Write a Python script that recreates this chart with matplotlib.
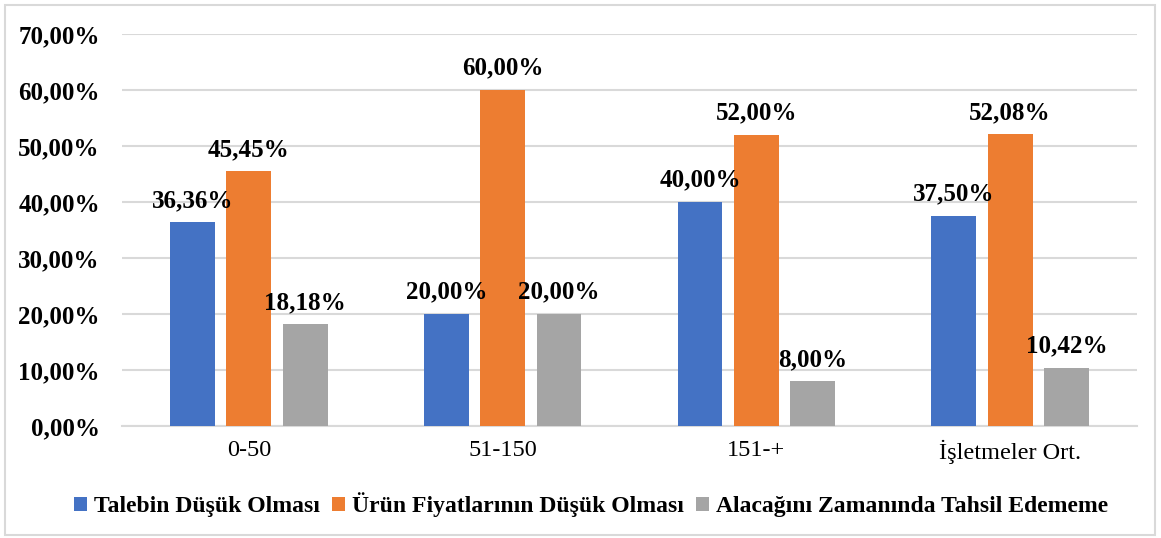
import matplotlib
matplotlib.use("Agg")
import matplotlib.pyplot as plt
import numpy as np
from matplotlib.patches import Rectangle

categories = ["0-50", "51-150", "151-+", "İşletmeler Ort."]
series_names = ["Talebin Düşük Olması", "Ürün Fiyatlarının Düşük Olması", "Alacağını Zamanında Tahsil Edememe"]
talep = [36.36, 20.00, 40.00, 37.50]
fiyat = [45.45, 60.00, 52.00, 52.08]
alacak = [18.18, 20.00, 8.00, 10.42]
yticks = [0, 10, 20, 30, 40, 50, 60, 70]
colors = ["#4472C4", "#ED7D31", "#A5A5A5"]

plt.rcParams['font.family'] = ['Liberation Serif', 'DejaVu Serif']

fig = plt.figure(figsize=(11.61, 5.38), dpi=100)
ax = fig.add_axes([122/1161, 112/538, (1137-122)/1161, (504-112)/538])

x = np.arange(len(categories))
w = 0.177
step = 0.222
for i, (vals, c, name) in enumerate(zip([talep, fiyat, alacak], colors, series_names)):
    ax.bar(x + (i - 1) * step, vals, width=w, color=c, label=name, zorder=3)
    for xi, v in zip(x + (i - 1) * step, vals):
        ax.annotate(f"{v:.2f}%".replace(".", ","), (xi, v), xytext=(0, 11),
                    textcoords="offset points", ha="center", va="baseline",
                    fontsize=18, fontweight="bold", zorder=4)

ax.set_xlim(-0.5, len(categories) - 0.5)
ax.set_ylim(0, 70)
ax.set_yticks(yticks)
ax.set_yticklabels([f"{t:.2f}%".replace(".", ",") for t in yticks], fontsize=18, fontweight="bold")
ax.set_xticks(x)
ax.set_xticklabels(categories, fontsize=17.5)
ax.tick_params(axis="both", length=0)
ax.tick_params(axis="y", pad=16)
ax.tick_params(axis="x", pad=10)
ax.grid(axis="y", color="#D9D9D9", linewidth=1.5, zorder=0)
for s in ["top", "right", "left"]:
    ax.spines[s].set_visible(False)
ax.spines["bottom"].set_color("#D9D9D9")
ax.spines["bottom"].set_linewidth(1.5)

fig.legend(loc="center", bbox_to_anchor=(591/1161, 33/538), ncol=3, frameon=False,
           prop={"size": 17, "weight": "bold"}, handlelength=0.55, handleheight=0.55,
           handletextpad=0.3, columnspacing=0.5)

fig.patches.append(Rectangle((5/1161, 3/538), 1150/1161, 530/538, transform=fig.transFigure,
                             fill=False, edgecolor="#D9D9D9", linewidth=1.5))

fig.savefig("out.png", dpi=100)
